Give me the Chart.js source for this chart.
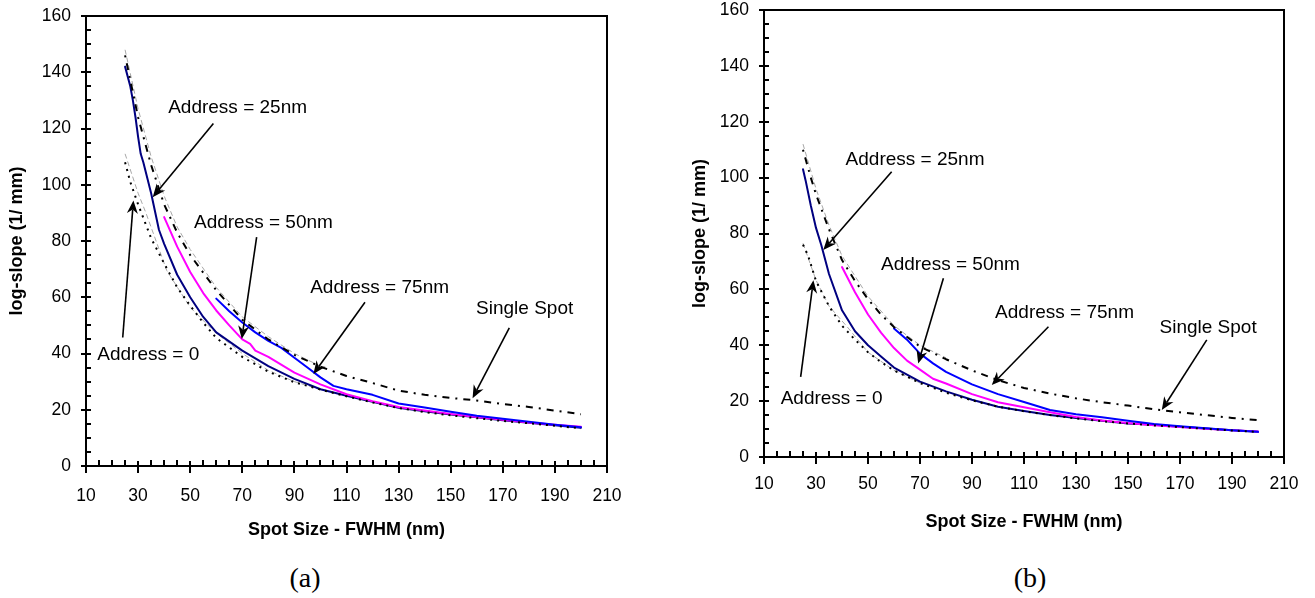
<!DOCTYPE html>
<html><head><meta charset="utf-8">
<script src="https://cdn.jsdelivr.net/npm/chart.js@4.4.1/dist/chart.umd.min.js"></script>
<style>
html,body{margin:0;padding:0;background:#fff;width:1315px;height:598px;overflow:hidden}
.wrap{position:absolute}
.cap{position:absolute;font-family:"Liberation Serif","Times New Roman",serif;font-size:28px;color:#000;transform:translate(-50%,-50%);white-space:nowrap}
</style></head><body>
<div class="wrap" style="left:0;top:0;width:640px;height:560px"><canvas id="ca" width="640" height="560"></canvas></div>
<div class="wrap" style="left:664px;top:0;width:650px;height:560px"><canvas id="cb" width="650" height="560"></canvas></div>
<div class="cap" style="left:305px;top:578px">(a)</div>
<div class="cap" style="left:1030px;top:578px">(b)</div>
<script>
// ---------- Chart (a) data ----------
const a_x25 = [25,27,28,29,30,31,32,35,38,40,45,50,55,60,70,80,90,100,110,120,130,140,150,160,170,180,190,200];
const a_y25 = [142,135,130,124,117,111,108,97,84,79,68,60,53,47.5,41,35.5,31,27.3,25,22.8,20.7,19.5,18.3,17.3,16.3,15.4,14.5,13.6];
const a_x50 = [40,45,50,55,60,65,70,73,75,80,90,100,110,120,130,140,150,160,170,180,190,200];
const a_y50 = [88.5,78,69,61.5,55.3,50,45,43.4,41,38.8,33.2,29,25.5,23,21,19.7,18.5,17.4,16.4,15.5,14.7,14];
const a_x75 = [60,65,70,75,80,85,90,95,100,105,110,120,130,140,150,160,170,180,190,200];
const a_y75 = [59.5,55,51,47.5,44.5,42,38.5,35,31.5,28.5,27.3,25.3,22.2,20.8,19.3,17.9,16.8,15.7,14.7,13.8];
const a_xSingle = [25,30,35,40,45,50,60,70,80,90,100,110,120,130,140,150,160,170,180,190,200];
const a_ySingle = [146,124,107,93,83,75,62.5,52,45,39.5,35.3,32,29.5,26.8,25.3,24.2,23.3,22,21,19.7,18.4];
const a_x0 = [25,27,30,35,40,45,50,55,60,70,80,90,100,110,120,130,140,150,160,170,180,190,200];
const a_y0 = [108,101,93,81,72,63.5,57,51,45.5,38.8,33.5,29.8,27.2,24.8,22.6,20.6,19.2,18,17,16,15.2,14.3,13.4];
const a_xFitSingle = [25,30,35,40,45,50,60,70,80,90,100];
const a_yFitSingle = [148,127,110,96,85,77,63.5,53,46,40,35.5];
const a_xFit0 = [25,30,33,41,50,59,70,80,90,100];
const a_yFit0 = [111,97,90,69.5,56.4,48,40,34,30,27.2];

// ---------- Chart (b) data ----------
const b_x25 = [25,26,28,30,32,35,40,45,50,55,60,70,80,90,100,110,120,130,140,150,160,170,180,190,200];
const b_y25 = [103,99,90,82,76,65.5,52.5,45,40,36,32,27,23.5,20.5,18,16.5,15,14,13,12,11.5,10.8,10.2,9.6,9];
const b_x50 = [40,45,50,55,60,65,70,75,80,90,100,110,120,130,140,150,160,170,180,190,200];
const b_y50 = [68,59,51,44.5,39,34.5,31.3,28,26.3,22.5,19.6,17.8,16,14.3,13.1,12.2,11.4,10.7,10.1,9.6,9.1];
const b_x75 = [60,65,70,75,80,90,100,110,120,130,140,150,160,170,180,190,200];
const b_y75 = [46,42,37,33.5,30.5,26,22.5,19.7,16.8,15.3,14.2,13,11.8,11,10.3,9.6,9];
const b_xSingle = [25,28,30,35,40,45,50,55,60,70,80,90,100,110,120,130,140,150,160,170,180,190,200];
const b_ySingle = [110,100,94,81.5,70.5,63,56.5,51,46.5,39.5,35,31,27.5,24.7,22.7,21,19.6,18.4,17.1,16,15,14,13.2];
const b_x0 = [25,27,30,35,40,45,50,55,60,70,80,90,100,110,120,130,140,150,160,170,180,190,200];
const b_y0 = [76,72,63,54,47,42,37.5,34,31,26.5,23,20.3,18,16.4,15,13.8,12.8,12,11.3,10.7,10.1,9.5,9];
const b_xFitSingle = [25,30,35,40,50,60,70,80];
const b_yFitSingle = [112,96,83,72,57.5,47,40,35.5];
const b_xFit0 = [25,30,35,42,50,60,70];
const b_yFit0 = [76.5,63.3,54,46.6,37.5,31,26.5];

// ---------- tick labels / titles ----------
const xTickValues = [10,30,50,70,90,110,130,150,170,190,210];
const yTickValues = [0,20,40,60,80,100,120,140,160];
const xTitle = 'Spot Size - FWHM (nm)';
const yTitle = 'log-slope (1/ mm)';

// ---------- annotation labels (data coordinates) ----------
const a_notes = [
  {text:'Address = 25nm', tx:68.2, ty:127.2, x1:58.9, y1:121.8, x2:35.6, y2:95.6},
  {text:'Address = 50nm', tx:78.1, ty:86.4, x1:75.5, y1:81.4, x2:69.8, y2:45.2},
  {text:'Address = 75nm', tx:122.7, ty:63.5, x1:117.1, y1:58.2, x2:97.3, y2:32.7},
  {text:'Single Spot', tx:178.4, ty:55.8, x1:172.5, y1:49.1, x2:158.4, y2:24.1},
  {text:'Address = 0', tx:33.9, ty:39.6, x1:24.1, y1:45.7, x2:28.2, y2:94.4}
];
const b_notes = [
  {text:'Address = 25nm', tx:68.1, ty:106.5, x1:59.1, y1:102.1, x2:32.8, y2:74.1},
  {text:'Address = 50nm', tx:81.7, ty:68.7, x1:79, y1:64, x2:69.3, y2:33.5},
  {text:'Address = 75nm', tx:125.6, ty:51.6, x1:119.4, y1:46.6, x2:97.6, y2:25.8},
  {text:'Single Spot', tx:180.8, ty:46.1, x1:180.3, y1:41.9, x2:163, y2:16.8},
  {text:'Address = 0', tx:36, ty:21, x1:24.1, y1:28.7, x2:29, y2:63.3}
];

const SANS = '"Liberation Sans", Arial, Helvetica, sans-serif';
const pts = (xs, ys) => xs.map((x, i) => ({x, y: ys[i]}));

function arrow(ctx, x1, y1, x2, y2) {
  const ang = Math.atan2(y2 - y1, x2 - x1), c = Math.cos(ang), s = Math.sin(ang);
  const L = 13, W = 5.5, N = 9;
  ctx.beginPath(); ctx.moveTo(x1, y1); ctx.lineTo(x2 - c * N, y2 - s * N); ctx.stroke();
  ctx.beginPath();
  ctx.moveTo(x2, y2);
  ctx.lineTo(x2 - L * c + W * s, y2 - L * s - W * c);
  ctx.lineTo(x2 - N * c, y2 - N * s);
  ctx.lineTo(x2 - L * c - W * s, y2 - L * s + W * c);
  ctx.closePath(); ctx.fill();
}

function makeChart(id, D, notes, g) {
  const frame = {
    id: 'frame',
    beforeDatasetsDraw(chart) {
      const {ctx, chartArea: a, scales: {x, y}} = chart;
      ctx.save();
      ctx.strokeStyle = '#000'; ctx.lineWidth = 2;
      ctx.strokeRect(a.left, a.top, a.right - a.left, a.bottom - a.top);
      ctx.beginPath();
      for (let v = 10; v <= 210; v += 5) {
        const px = Math.round(x.getPixelForValue(v));
        if ((v - 10) % 20 === 0) { ctx.moveTo(px, a.bottom - 5); ctx.lineTo(px, a.bottom + 7); }
        else { ctx.moveTo(px, a.bottom - 6); ctx.lineTo(px, a.bottom); }
      }
      for (let v = 0; v <= 160; v += 5) {
        const py = Math.round(y.getPixelForValue(v));
        if (v % 20 === 0) { ctx.moveTo(a.left - 5, py); ctx.lineTo(a.left + 5, py); }
        else { ctx.moveTo(a.left, py); ctx.lineTo(a.left + 5, py); }
      }
      ctx.stroke();
      ctx.restore();
    },
    afterDatasetsDraw(chart) {
      const {ctx, scales: {x, y}} = chart;
      ctx.save();
      ctx.font = '19px ' + SANS;
      ctx.fillStyle = '#000'; ctx.strokeStyle = '#000'; ctx.lineWidth = 1.6;
      ctx.textAlign = 'center'; ctx.textBaseline = 'middle';
      for (const n of notes) {
        ctx.fillText(n.text, x.getPixelForValue(n.tx), y.getPixelForValue(n.ty));
        arrow(ctx, x.getPixelForValue(n.x1), y.getPixelForValue(n.y1), x.getPixelForValue(n.x2), y.getPixelForValue(n.y2));
      }
      ctx.restore();
    }
  };
  const line = (data, color, width, dash, order) => ({
    data, borderColor: color, borderWidth: width, borderDash: dash || [], pointRadius: 0,
    tension: 0, fill: false, order, borderJoinStyle: 'round', borderCapStyle: dash ? 'butt' : 'round'
  });
  return new Chart(document.getElementById(id), {
    type: 'line',
    data: {
      datasets: [
        line(pts(D.xFitSingle, D.yFitSingle), '#a8a8a8', 1, [5, 3], 9),
        line(pts(D.xFit0, D.yFit0), '#a8a8a8', 1, [5, 3], 9),
        line(pts(D.x25, D.y25), '#000080', 2, null, 5),
        line(pts(D.x50, D.y50), '#ff00ff', 2, null, 4),
        line(pts(D.x75, D.y75), '#0000ff', 2, null, 3),
        line(pts(D.xSingle, D.ySingle), '#000000', 2, [2, 6, 7, 6], 1),
        line(pts(D.x0, D.y0), '#000000', 2, [2, 5], 1)
      ]
    },
    options: {
      responsive: false, animation: false, events: [],
      layout: {padding: {left: 0, top: g.top, right: g.right, bottom: 0}},
      plugins: {legend: {display: false}, tooltip: {enabled: false}},
      scales: {
        x: {
          type: 'linear', min: 10, max: 210,
          afterBuildTicks: s => { s.ticks = xTickValues.map(v => ({value: v})); },
          ticks: {color: '#000', font: {family: SANS, size: 17.5}, padding: g.xPad, maxRotation: 0, autoSkip: false},
          grid: {display: false, drawTicks: false}, border: {display: false},
          title: {display: true, text: xTitle, color: '#000', font: {family: SANS, size: 18, weight: 'bold'}, padding: {top: 0, bottom: g.xTitlePad}},
          afterFit: s => { s.height = g.xH; s.paddingLeft = 0; s.paddingRight = 0; }
        },
        y: {
          type: 'linear', min: 0, max: 160,
          afterBuildTicks: s => { s.ticks = yTickValues.map(v => ({value: v})); },
          ticks: {color: '#000', font: {family: SANS, size: 17.5}, padding: 15, autoSkip: false},
          grid: {display: false, drawTicks: false}, border: {display: false},
          title: {display: true, text: yTitle, color: '#000', font: {family: SANS, size: 18, weight: 'bold'}, padding: {top: g.yTitlePad, bottom: 0}},
          afterFit: s => { s.width = g.yW; s.paddingTop = 0; s.paddingBottom = 0; }
        }
      }
    },
    plugins: [frame]
  });
}

makeChart('ca', {
  x25: a_x25, y25: a_y25, x50: a_x50, y50: a_y50, x75: a_x75, y75: a_y75,
  xSingle: a_xSingle, ySingle: a_ySingle, x0: a_x0, y0: a_y0,
  xFitSingle: a_xFitSingle, yFitSingle: a_yFitSingle, xFit0: a_xFit0, yFit0: a_yFit0
}, a_notes, {top: 16, right: 33, xH: 94, yW: 86, xPad: 20, xTitlePad: 19, yTitlePad: 6.7});

makeChart('cb', {
  x25: b_x25, y25: b_y25, x50: b_x50, y50: b_y50, x75: b_x75, y75: b_y75,
  xSingle: b_xSingle, ySingle: b_ySingle, x0: b_x0, y0: b_y0,
  xFitSingle: b_xFitSingle, yFitSingle: b_yFitSingle, xFit0: b_xFit0, yFit0: b_yFit0
}, b_notes, {top: 10, right: 30, xH: 103, yW: 100, xPad: 16.5, xTitlePad: 27, yTitlePad: 25});
</script>
</body></html>
